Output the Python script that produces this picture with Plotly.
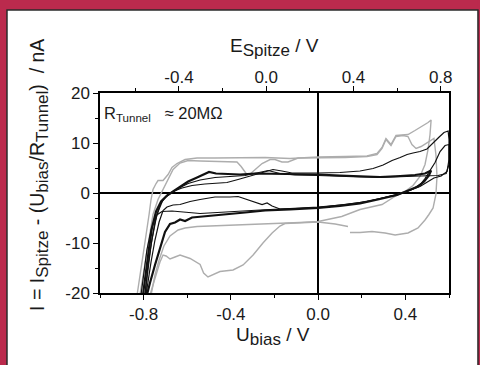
import plotly.graph_objects as go

# ---------------- data (U_bias in V, I in nA) ----------------
g1_u = [-0.830, -0.798, -0.775, -0.766, -0.757, -0.743, -0.734, -0.711, -0.688, -0.670, -0.647, -0.610,
        -0.555, -0.473, -0.358, -0.243, -0.129, 0.000, 0.124, 0.224, 0.270, 0.293, 0.311, 0.334, 0.357,
        0.385, 0.412, 0.444, 0.476, 0.504, 0.518,
        0.513, 0.504, 0.490, 0.467, 0.435, 0.398, 0.366, 0.293, 0.192, 0.108, 0.000, -0.083, -0.152,
        -0.266, -0.335, -0.450, -0.555, -0.610, -0.642, -0.679, -0.707, -0.729, -0.748, -0.766]
g1_i = [-20.4, -11.4, -4.3, -1.3, 0.7, 1.9, 2.5, 2.5, 3.7, 5.1, 5.9, 6.7,
        7.0, 7.0, 7.0, 7.1, 6.9, 7.2, 7.3, 7.4, 7.9, 9.1, 10.9, 9.7, 11.5,
        11.6, 11.7, 12.5, 13.3, 14.1, 14.6,
        11.7, 8.7, 5.7, 3.3, 1.5, 0.3, -0.3, -2.3, -3.3, -4.7, -5.7, -5.9, -6.0,
        -6.2, -6.4, -6.5, -6.7, -7.0, -7.4, -8.6, -10.6, -13.4, -16.4, -20.4]

g2_u = [-0.817, -0.785, -0.757, -0.734, -0.711, -0.693, -0.665, -0.633, -0.596, -0.541, -0.473, -0.404,
        -0.372, -0.353, -0.330, -0.312, -0.289, -0.257, -0.220, -0.198, -0.166, -0.138, -0.092, 0.000,
        0.124, 0.224, 0.270, 0.293, 0.311, 0.334, 0.357, 0.389, 0.412, 0.430, 0.449, 0.472, 0.499, 0.531,
        0.540, 0.545, 0.540, 0.527, 0.508, 0.490, 0.458, 0.412, 0.353, 0.307, 0.247, 0.192, 0.146]
g2_i = [-20.4, -11.4, -4.3, -1.3, 0.7, 2.3, 4.7, 6.0, 6.5, 6.4, 6.3, 6.3,
        6.2, 5.3, 3.9, 3.8, 4.7, 5.9, 6.7, 6.7, 6.2, 6.2, 7.0, 7.0,
        7.1, 7.3, 7.7, 8.9, 10.7, 9.5, 11.3, 11.5, 11.3, 9.7, 8.9, 9.3, 10.1, 10.9,
        7.7, 3.3, -0.3, -3.0, -4.3, -5.4, -7.0, -8.0, -8.4, -8.0, -7.7, -7.9, -7.9]

g3_u = [0.137, 0.078, 0.000, -0.083, -0.152, -0.175, -0.211, -0.253, -0.298, -0.344, -0.390, -0.450,
        -0.505, -0.525, -0.541, -0.587, -0.633, -0.656, -0.679, -0.697, -0.711, -0.725, -0.748, -0.771]
g3_i = [-6.7, -6.2, -5.8, -5.9, -6.1, -6.6, -8.0, -10.0, -12.4, -14.4, -15.4, -15.7,
        -16.8, -16.0, -14.3, -13.1, -12.4, -12.8, -13.2, -12.6, -12.4, -13.8, -17.1, -20.4]

b1_u = [-0.803, -0.789, -0.775, -0.762, -0.743, -0.720, -0.693, -0.665, -0.633, -0.596, -0.560, -0.528,
        -0.500, -0.468, -0.427, -0.358, -0.289, -0.129, 0.000, 0.100, 0.192, 0.284, 0.376, 0.444, 0.490,
        0.518,
        0.508, 0.486, 0.458, 0.421, 0.362, 0.284, 0.192, 0.100, 0.000, -0.129, -0.243, -0.335, -0.427,
        -0.519, -0.578, -0.610, -0.633, -0.656, -0.679, -0.702, -0.725, -0.748, -0.771, -0.785]
b1_i = [-20.4, -15.4, -11.0, -7.0, -3.7, -1.7, -0.5, 0.3, 1.3, 2.3, 3.0, 3.7,
        4.2, 3.9, 3.8, 3.7, 3.9, 3.8, 3.7, 3.5, 3.4, 3.2, 3.4, 3.6, 3.9,
        4.5,
        3.5, 2.3, 1.3, 0.6, -0.4, -1.2, -2.1, -2.6, -3.0, -3.3, -3.5, -3.9, -4.3,
        -4.6, -4.9, -5.6, -5.3, -5.9, -6.2, -7.8, -11.0, -14.4, -18.0, -20.4]

b2_u = [-0.794, -0.780, -0.766, -0.748, -0.725, -0.697, -0.665, -0.624, -0.578, -0.519, -0.464, -0.418,
        -0.367, -0.312, -0.257, -0.207, -0.166, -0.120, 0.000, 0.100, 0.192, 0.252, 0.298, 0.339, 0.376,
        0.408, 0.435, 0.467, 0.499, 0.527, 0.555, 0.577, 0.596,
        0.600, 0.600, 0.591, 0.564, 0.531, 0.499, 0.467, 0.430, 0.366, 0.284, 0.192, 0.100, 0.000,
        -0.106, -0.175, -0.211, -0.234, -0.257, -0.284, -0.330, -0.367, -0.404, -0.473, -0.541, -0.587,
        -0.633, -0.665, -0.693, -0.711, -0.729, -0.748, -0.766, -0.780, -0.789]
b2_i = [-20.4, -15.4, -10.4, -5.8, -2.3, -0.7, 0.3, 1.0, 1.5, 1.8, 1.9, 2.1,
        2.7, 3.4, 4.2, 4.7, 4.4, 4.0, 4.0, 4.1, 4.4, 4.9, 5.6, 6.5, 7.1,
        7.7, 8.0, 8.3, 8.8, 9.9, 11.2, 12.1, 12.4,
        10.7, 6.7, 4.3, 3.4, 3.0, 2.1, 1.3, 0.7, -0.3, -1.1, -1.9, -2.4, -2.9,
        -3.1, -3.2, -2.6, -2.0, -2.3, -1.9, -1.3, -0.7, -0.8, -0.8, -1.3, -1.7,
        -2.3, -2.4, -2.8, -3.5, -5.8, -9.4, -13.8, -17.4, -20.4]

b3_u = [-0.812, -0.798, -0.785, -0.766, -0.743, -0.716, -0.670, -0.541, -0.404, -0.266, -0.129, 0.000,
        0.124, 0.238, 0.339, 0.398, 0.435, 0.472, 0.490, 0.513, 0.536, 0.559, 0.582, 0.600,
        0.600, 0.587, 0.550, 0.467, 0.376, 0.284, 0.192, 0.100, 0.000, -0.106, -0.175, -0.229, -0.276,
        -0.335, -0.404, -0.473, -0.541, -0.596, -0.642, -0.679, -0.711, -0.739, -0.762, -0.780, -0.794]
b3_i = [-20.4, -15.4, -11.4, -7.4, -4.5, -3.7, -3.6, -4.1, -3.7, -3.4, -3.1, -2.8,
        -2.3, -1.6, -0.5, 0.1, 0.8, 1.9, 2.9, 4.5, 6.1, 8.3, 9.5, 9.7,
        5.7, 3.9, 3.5, 3.4, 3.2, 3.1, 3.2, 3.4, 3.5, 3.6, 3.9, 4.5, 4.1,
        3.5, 3.3, 3.1, 2.6, 1.9, 0.9, -0.1, -1.3, -4.3, -9.4, -14.4, -20.4]

x_tickvals = [-0.8, -0.4, 0.0, 0.4]
x_ticktext = ["-0.8", "-0.4", "0.0", "0.4"]
x_minor = [-1.0, -0.6, -0.2, 0.2, 0.6]
e_tickvals = [-0.4, 0.0, 0.4, 0.8]
e_ticktext = ["-0.4", "0.0", "0.4", "0.8"]
e_minor = [-0.6, -0.2, 0.2, 0.6]
y_tickvals = [-20, -10, 0, 10, 20]
y_ticktext = ["-20", "-10", "0", "10", "20"]
y_minor = [-15, -5, 5, 15]
E_OFFSET = 0.238  # E_Spitze = U_bias + offset

GRAY = "#adadad"
BLACK = "#111111"
TXT = "#1a1a1a"
MAROON = "#bb2a4d"
FONT = "Liberation Sans, Arial, sans-serif"

fig = go.Figure()
for u, i in [(g1_u, g1_i), (g2_u, g2_i), (g3_u, g3_i)]:
    fig.add_trace(go.Scatter(x=u, y=i, mode="lines", line=dict(color=GRAY, width=1.4), hoverinfo="skip"))
for u, i, w in [(b2_u, b2_i, 1.2), (b3_u, b3_i, 1.2), (b1_u, b1_i, 2.2)]:
    fig.add_trace(go.Scatter(x=u, y=i, mode="lines", line=dict(color=BLACK, width=w), hoverinfo="skip"))
# empty trace so that the top (E_Spitze) axis is drawn
fig.add_trace(go.Scatter(x=e_tickvals, y=[None] * len(e_tickvals), xaxis="x2", yaxis="y",
                         mode="lines", hoverinfo="skip"))

axis_common = dict(showline=True, linecolor="black", linewidth=1.5, showgrid=False,
                   ticks="outside", ticklen=5, tickwidth=1.2, tickcolor="black",
                   tickfont=dict(family=FONT, size=17, color=TXT))

fig.update_layout(
    width=480, height=365,
    margin=dict(l=100, r=31, t=93, b=72),
    paper_bgcolor="white",
    plot_bgcolor="white",
    showlegend=False,
    font=dict(family=FONT, color=TXT),
    xaxis=dict(range=[-1.0, 0.6], tickvals=x_tickvals, ticktext=x_ticktext,
               minor=dict(tickvals=x_minor, ticks="outside", ticklen=3, tickcolor="black"),
               zeroline=True, zerolinecolor="black", zerolinewidth=1.6, mirror=True, **axis_common),
    xaxis2=dict(range=[-1.0 + E_OFFSET, 0.6 + E_OFFSET], overlaying="x", side="top", anchor="y",
                tickvals=e_tickvals, ticktext=e_ticktext, ticklabelstandoff=-4,
                minor=dict(tickvals=e_minor, ticks="outside", ticklen=3, tickcolor="black"),
                zeroline=False, **axis_common),
    yaxis=dict(range=[-20, 20], tickvals=y_tickvals, ticktext=y_ticktext,
               minor=dict(tickvals=y_minor, ticks="outside", ticklen=3, tickcolor="black"),
               zeroline=True, zerolinecolor="black", zerolinewidth=1.6, mirror=True, **axis_common),
)

# maroon frame (left, top, right strips) and thin dark panel border
for (x0, x1, y0, y1) in [(-0.35, -0.2665, -0.5, 1.6), (-0.35, 1.2, 1.415, 1.6), (1.083, 1.2, -0.5, 1.6)]:
    fig.add_shape(type="rect", xref="paper", yref="paper", x0=x0, x1=x1, y0=y0, y1=y1,
                  fillcolor=MAROON, line=dict(width=0), layer="below")
fig.add_shape(type="rect", xref="paper", yref="paper", x0=-0.2665, x1=1.083, y0=-0.40, y1=1.415,
              fillcolor="rgba(0,0,0,0)", line=dict(color="#2b2b2b", width=1.5), layer="below")

fig.add_annotation(text='E<sub><span style="font-size:17px">Spitze</span></sub> / V',
                   xref="paper", yref="paper", x=0.50, y=1.23, xanchor="center", yanchor="middle",
                   showarrow=False, font=dict(family=FONT, size=19, color=TXT))
fig.add_annotation(text='U<sub><span style="font-size:17px">bias</span></sub> / V',
                   xref="paper", yref="paper", x=0.495, y=-0.215, xanchor="center", yanchor="middle",
                   showarrow=False, font=dict(family=FONT, size=19, color=TXT))
fig.add_annotation(text='I = I<sub><span style="font-size:17px">Spitze</span></sub> - (U<sub><span style="font-size:17px">bias</span></sub>/R<sub><span style="font-size:17px">Tunnel</span></sub>)&nbsp; / nA',
                   xref="paper", yref="paper", x=-0.175, y=0.59, xanchor="center", yanchor="middle",
                   showarrow=False, textangle=-90, font=dict(family=FONT, size=19.5, color=TXT))
fig.add_annotation(text='R<sub>Tunnel</sub>&nbsp;&nbsp;&nbsp;≈ 20MΩ',
                   xref="paper", yref="paper", x=0.006, y=0.895, xanchor="left", yanchor="middle",
                   showarrow=False, font=dict(family=FONT, size=16.5, color=TXT))

fig.write_html("out.html", config={"displayModeBar": False},
               post_script="document.body.style.margin='0';document.body.style.overflow='hidden';")
